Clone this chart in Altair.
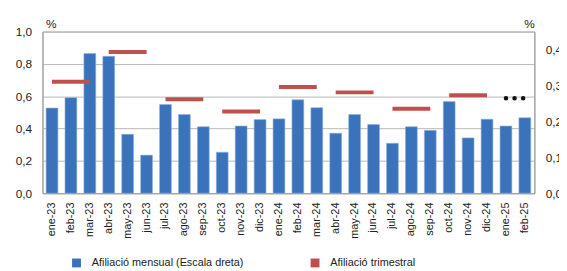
import altair as alt
import pandas as pd

months = ["ene-23", "feb-23", "mar-23", "abr-23", "may-23", "jun-23", "jul-23", "ago-23",
          "sep-23", "oct-23", "nov-23", "dic-23", "ene-24", "feb-24", "mar-24", "abr-24",
          "may-24", "jun-24", "jul-24", "ago-24", "sep-24", "oct-24", "nov-24", "dic-24",
          "ene-25", "feb-25"]
monthly = [0.237, 0.266, 0.389, 0.381, 0.164, 0.106, 0.247, 0.219, 0.185, 0.114, 0.187, 0.205,
           0.207, 0.260, 0.238, 0.167, 0.219, 0.191, 0.139, 0.185, 0.175, 0.255, 0.154, 0.206,
           0.187, 0.210]

q_start = ["ene-23", "abr-23", "jul-23", "oct-23", "ene-24", "abr-24", "jul-24", "oct-24"]
q_end = ["mar-23", "jun-23", "sep-23", "dic-23", "mar-24", "jun-24", "sep-24", "dic-24"]
quarterly = [0.689, 0.874, 0.581, 0.506, 0.657, 0.624, 0.523, 0.606]

partial_start = ["ene-25"]
partial_end = ["feb-25"]
partial_val = [0.587]

S1 = "Afiliació mensual (Escala dreta)"
S2 = "Afiliació trimestral"
BLUE = "#3a73bb"
RED = "#c0504d"
FONT = "Liberation Sans"

df_m = pd.DataFrame({"month": months, "value": monthly, "series": S1})
df_q = pd.DataFrame({"start": q_start, "end": q_end, "value": quarterly, "series": S2})
df_p = pd.DataFrame({"start": partial_start, "end": partial_end, "value": partial_val})

fmt = "replace(format(datum.value, '.1f'), '.', ',')"

color = alt.Color(
    "series:N",
    scale=alt.Scale(domain=[S1, S2], range=[BLUE, RED]),
    legend=alt.Legend(
        title=None, orient="none", direction="horizontal", legendX=29, legendY=229,
        symbolType="square", symbolSize=81, symbolStrokeWidth=0, labelFontSize=11,
        labelOffset=10, columnPadding=66, padding=0, labelColor="#222", labelFont=FONT,
    ),
)

xscale = alt.Scale(domain=months, paddingInner=0.375, paddingOuter=0.19)
xaxis = alt.Axis(labelAngle=270, labelAlign="right", labelBaseline="middle",
                 labelPadding=9, ticks=False, domainColor="#a0a0a0",
                 labelFontSize=11, labelColor="#222", labelFont=FONT)

left_scale = alt.Scale(domain=[0, 1], nice=False)
left_axis = alt.Axis(orient="left", values=[0, 0.2, 0.4, 0.6, 0.8, 1.0], labelExpr=fmt,
                     labelOverlap=False, grid=True, gridColor="#b8b8b8", ticks=False,
                     labelPadding=11, domainColor="#a0a0a0",
                     title="%", titleAngle=0, titleX=3, titleY=-4, titleAlign="left",
                     titleBaseline="alphabetic", titleFontWeight="normal",
                     titleFontSize=12, titleFont=FONT, titleColor="#222",
                     labelFontSize=12, labelColor="#222", labelFont=FONT)

bars = alt.Chart(df_m).mark_bar(stroke="#8fb0dc", strokeWidth=0.6).encode(
    x=alt.X("month:N", title=None, scale=xscale, axis=xaxis),
    y=alt.Y("value:Q", scale=alt.Scale(domain=[0, 0.45], nice=False),
            axis=alt.Axis(orient="right", values=[0, 0.1, 0.2, 0.3, 0.4], labelExpr=fmt,
                          labelOverlap=False, grid=False, ticks=False, labelPadding=11,
                          domainColor="#a0a0a0",
                          title="%", titleAngle=0, titleX=0, titleY=-4, titleAlign="right",
                          titleBaseline="alphabetic", titleFontWeight="normal",
                          titleFontSize=12, titleFont=FONT, titleColor="#222",
                          labelFontSize=12, labelColor="#222", labelFont=FONT)),
    color=color,
)

rules = alt.Chart(df_q).mark_rule(strokeWidth=4).encode(
    x=alt.X("start:N", title=None, scale=xscale, axis=xaxis, bandPosition=0.5),
    x2=alt.X2("end:N", bandPosition=0.5),
    y=alt.Y("value:Q", title="%", scale=left_scale, axis=left_axis),
    color=color,
)

dots = alt.Chart(df_p).mark_rule(strokeWidth=4.5, strokeCap="round", strokeDash=[0.1, 8.6],
                                 color="#111").encode(
    x=alt.X("start:N", title=None, scale=xscale, axis=xaxis, bandPosition=0.5),
    x2=alt.X2("end:N", bandPosition=0.5),
    y=alt.Y("value:Q", title="%", scale=left_scale, axis=left_axis),
)

chart = alt.layer(bars, rules + dots).resolve_scale(y="independent").properties(
    width=499, height=164,
    autosize=alt.AutoSizeParams(type="none"),
    padding={"left": 35, "top": 22, "right": 25, "bottom": 77},
).configure_view(stroke="#a0a0a0", strokeWidth=1)

chart.save("out.html", embed_options={"renderer": "svg", "actions": False})
